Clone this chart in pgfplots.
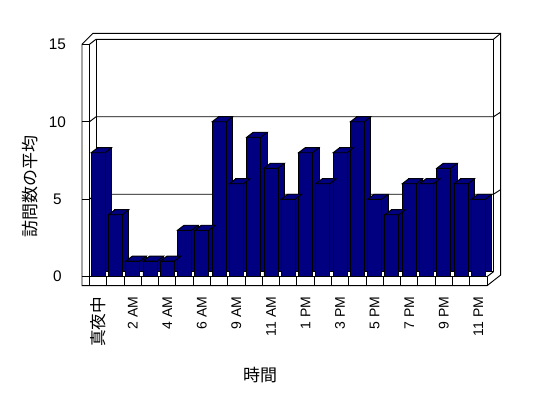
\documentclass[border=0pt]{standalone}
\usepackage{fontspec}
\setmainfont{Liberation Sans}
\newfontfamily\cjk{Noto Sans CJK JP}
\usepackage{pgfplots}
\pgfplotsset{compat=1.18}
\usepackage{pgfplotstable}
\definecolor{barblue}{RGB}{0,0,128}
\pgfdeclareplotmark{bartop}{%
  \pgfpathmoveto{\pgfqpoint{-5.25pt}{0pt}}%
  \pgfpathlineto{\pgfqpoint{5.25pt}{0pt}}%
  \pgfpathlineto{\pgfqpoint{10.125pt}{3.75pt}}%
  \pgfpathlineto{\pgfqpoint{-0.375pt}{3.75pt}}%
  \pgfpathclose
  \pgfusepathqfillstroke}

\pgfplotstableread{
idx val
0 8
1 4
2 1
3 1
4 1
5 3
6 3
7 10
8 6
9 9
10 7
11 5
12 8
13 6
14 8
15 10
16 5
17 4
18 6
19 6
20 7
21 6
22 5
}\visits

\begin{document}
\begin{tikzpicture}
\begin{scope}[x=0.75pt,y=-0.75pt]
\path[use as bounding box] (0,0) rectangle (548,398);
\end{scope}
\begin{axis}[
  at={(67.125pt,-207.525pt)}, anchor=south west,
  scale only axis, width=298.125pt, height=174.3pt,
  xmin=-0.5, xmax=22.5, ymin=0, ymax=15,
  clip=false,
  axis x line*=bottom, axis y line*=left,
  axis line style={line width=0.7pt, -},
  tick align=outside,
  major tick length=5.625pt, minor tick length=7pt,
  every tick/.style={black, line width=0.7pt},
  major x tick style={draw=none},
  xtick={0,2,...,22},
  minor xtick={-0.5,0.5,...,22.5},
  xticklabels={{\cjk\fontsize{12.5}{13}\selectfont 真夜中},2 AM,4 AM,6 AM,9 AM,11 AM,1 PM,3 PM,5 PM,7 PM,9 PM,11 PM},
  xticklabel style={rotate=90, anchor=east, font=\fontsize{10.5}{11}\selectfont, xshift=-6pt},
  ytick={0,5,10,15},
  yticklabel style={anchor=center, xshift=-18.4pt, font=\fontsize{11.5}{12}\selectfont},
  /pgf/number format/assume math mode=true,
  xlabel={\cjk 時間},
  xlabel style={at={(rel axis cs:0.429,0)}, anchor=center, yshift=-73.7pt, font=\fontsize{12.75}{14}\selectfont},
  ylabel={\cjk 訪問数の平均},
  ylabel style={at={(rel axis cs:-0.1497,0.39)}, anchor=center, font=\fontsize{12.75}{14}\selectfont},
]
% back wall, floor back edge and grid lines (behind the bars)
\draw[line width=0.7pt] (axis cs:-0.5,15) -- ([shift={(4.875pt,3.75pt)}]axis cs:-0.5,15) -- ([shift={(4.875pt,3.75pt)}]axis cs:22.5,15);
\draw[line width=0.7pt] ([shift={(4.875pt,3.75pt)}]axis cs:-0.5,15) -- ([shift={(4.875pt,3.75pt)}]axis cs:-0.5,0) -- ([shift={(4.875pt,3.75pt)}]axis cs:22.5,0) -- ([shift={(4.875pt,3.75pt)}]axis cs:22.5,15);
\draw[line width=0.7pt] (axis cs:22.5,0) -- ([shift={(4.875pt,3.75pt)}]axis cs:22.5,0);
\draw[line width=0.7pt] (axis cs:-0.5,5) -- ([shift={(4.875pt,3.75pt)}]axis cs:-0.5,5) -- ([shift={(4.875pt,3.75pt)}]axis cs:22.5,5) -- ++(5.4pt,3.5pt);
\draw[line width=0.7pt] (axis cs:-0.5,10) -- ([shift={(4.875pt,3.75pt)}]axis cs:-0.5,10) -- ([shift={(4.875pt,3.75pt)}]axis cs:22.5,10) -- ++(5.4pt,3.5pt);
% bars: side faces, top faces, front faces
\addplot[ybar, bar shift=0pt, bar width=10.5pt, fill=barblue, draw=black, line width=0.7pt, xshift=4.875pt, yshift=3.75pt] table[x=idx, y=val] {\visits};
\addplot[only marks, mark=bartop, mark options={fill=barblue, draw=black, line width=0.7pt, solid}] table[x=idx, y=val] {\visits};
\addplot[ybar, bar shift=0pt, bar width=10.5pt, fill=barblue, draw=black, line width=0.7pt] table[x=idx, y=val] {\visits};
\end{axis}
\begin{scope}[x=0.75pt,y=-0.75pt, line width=0.7pt]
\draw (82,44.3) -- (82,285.7) -- (487,285.7) -- (500.7,275) -- (500.7,33.3) -- (93,33.3) -- cycle;
\draw (493.5,39.3) -- (500.7,33.3);
\end{scope}
\end{tikzpicture}
\end{document}
